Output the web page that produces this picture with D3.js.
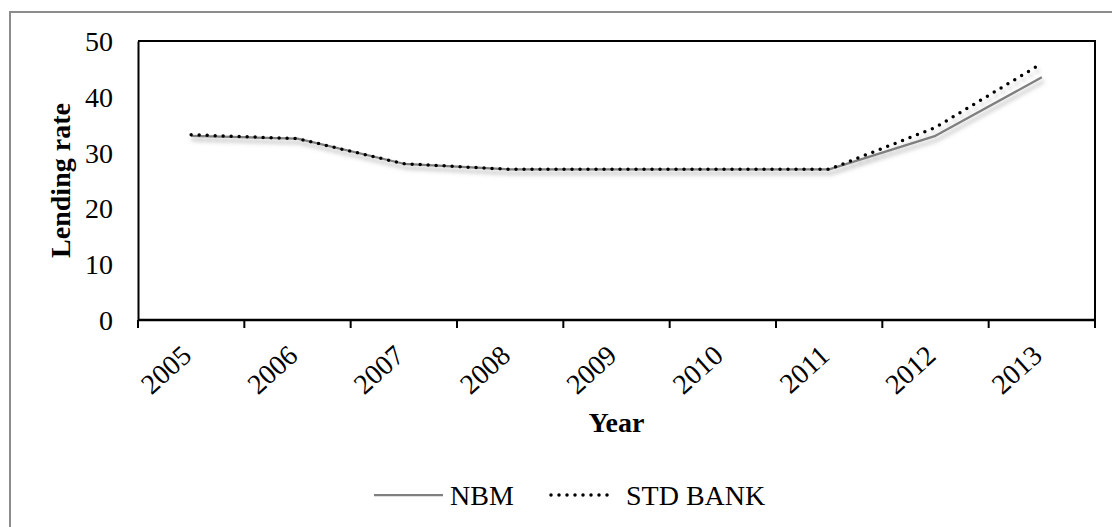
<!DOCTYPE html>
<html>
<head>
<meta charset="utf-8">
<script src="https://cdn.jsdelivr.net/npm/d3@7"></script>
<style>
  html, body { margin: 0; padding: 0; background: #fff; }
  svg { display: block; }
  text { font-family: "Liberation Serif", "Times New Roman", serif; fill: #000; }
</style>
</head>
<body>
<script>
// Lending rates by year
const years = ["2005", "2006", "2007", "2008", "2009", "2010", "2011", "2012", "2013"];
const nbm = [33, 32.5, 28, 27, 27, 27, 27, 33, 43.5];
const stdBank = [33.2, 32.5, 28, 27, 27, 27, 27, 34.5, 46];
const yTicks = [0, 10, 20, 30, 40, 50];
const seriesNames = ["NBM", "STD BANK"];

const W = 1112, H = 527;
const plot = { left: 138, top: 41, right: 1095, bottom: 320 };

const svg = d3.select("body").append("svg").attr("width", W).attr("height", H);

// soft shadow under the lines
const defs = svg.append("defs");
const f = defs.append("filter").attr("id", "lineShadow")
  .attr("x", "-5%").attr("y", "-20%").attr("width", "110%").attr("height", "160%");
f.append("feDropShadow").attr("dx", 2).attr("dy", 4).attr("stdDeviation", 2)
  .attr("flood-color", "#808080").attr("flood-opacity", 0.55);

// outer chart frame
svg.append("rect").attr("x", 10).attr("y", 12).attr("width", W).attr("height", H)
  .attr("fill", "none").attr("stroke", "#8c8c8c").attr("stroke-width", 2);

const x = d3.scaleBand().domain(years).range([plot.left, plot.right]).padding(0);
const y = d3.scaleLinear().domain([0, 50]).range([plot.bottom, plot.top]);
const cx = d => x(d) + x.bandwidth() / 2;

// plot area box (top and right edges)
svg.append("path")
  .attr("d", `M${plot.left},${plot.top}H${plot.right}V${plot.bottom}`)
  .attr("fill", "none").attr("stroke", "#000").attr("stroke-width", 2);

// y axis
const yAxis = svg.append("g").attr("transform", `translate(${plot.left},0)`)
  .call(d3.axisLeft(y).tickValues(yTicks).tickSize(0).tickPadding(25));
yAxis.attr("font-family", null);
yAxis.select(".domain").attr("stroke", "#000").attr("stroke-width", 2);
yAxis.selectAll("text").attr("font-size", 28).attr("dy", "0.34em");

// x axis: ticks on band boundaries
const xAxis = svg.append("g").attr("transform", `translate(0,${plot.bottom})`);
xAxis.append("line").attr("x1", plot.left).attr("x2", plot.right)
  .attr("stroke", "#000").attr("stroke-width", 2.5);
const bounds = years.map(d => x(d)).concat([plot.right]);
xAxis.selectAll("line.tick").data(bounds).join("line").attr("class", "tick")
  .attr("x1", d => d).attr("x2", d => d).attr("y1", 0).attr("y2", 8)
  .attr("stroke", "#000").attr("stroke-width", 2);
xAxis.selectAll("text.lbl").data(years).join("text").attr("class", "lbl")
  .attr("transform", d => `translate(${cx(d) + 2},${38}) rotate(-42)`)
  .attr("text-anchor", "end").attr("font-size", 28).text(d => d);

// axis titles
svg.append("text").attr("transform", `translate(70,${(plot.top + plot.bottom) / 2}) rotate(-90)`)
  .attr("text-anchor", "middle").attr("font-size", 28).attr("font-weight", "bold").text("Lending rate");
svg.append("text").attr("x", (plot.left + plot.right) / 2).attr("y", 432)
  .attr("text-anchor", "middle").attr("font-size", 28).attr("font-weight", "bold").text("Year");

// series lines
const line = d3.line().x((d, i) => cx(years[i])).y(d => y(d)).curve(d3.curveLinear);
const lines = svg.append("g").attr("filter", "url(#lineShadow)");
lines.append("path").datum(nbm).attr("d", line)
  .attr("fill", "none").attr("stroke", "#7f7f7f").attr("stroke-width", 2.25)
  .attr("stroke-linejoin", "round");
lines.append("path").datum(stdBank).attr("d", line)
  .attr("fill", "none").attr("stroke", "#000").attr("stroke-width", 3.5)
  .attr("stroke-linecap", "round").attr("stroke-dasharray", "0,8");

// legend
const lg = svg.append("g");
lg.append("line").attr("x1", 374).attr("x2", 443).attr("y1", 495).attr("y2", 495)
  .attr("stroke", "#7f7f7f").attr("stroke-width", 2.25);
lg.append("text").attr("x", 450).attr("y", 505).attr("font-size", 28).text(seriesNames[0]);
lg.append("line").attr("x1", 551).attr("x2", 615).attr("y1", 495).attr("y2", 495)
  .attr("stroke", "#000").attr("stroke-width", 3.5).attr("stroke-linecap", "round").attr("stroke-dasharray", "0,8");
lg.append("text").attr("x", 626).attr("y", 505).attr("font-size", 28).text(seriesNames[1]);
</script>
</body>
</html>
